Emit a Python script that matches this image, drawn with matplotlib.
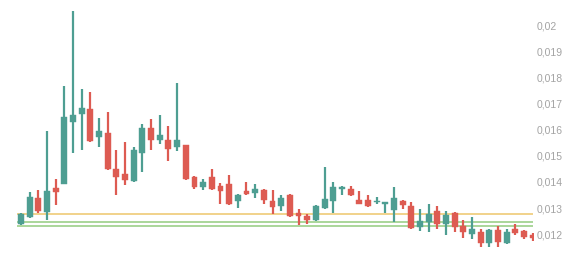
import matplotlib
matplotlib.use('Agg')
import matplotlib.pyplot as plt
from matplotlib.ticker import FuncFormatter
import numpy as np

# ── data ──────────────────────────────────────────────────────────────────────
opens = [0.012385, 0.012654, 0.013385, 0.012858, 0.013769, 0.013923, 0.016319, 0.016615,
         0.016819, 0.015742, 0.015896, 0.014500, 0.014319, 0.014027, 0.015127, 0.016088,
         0.015604, 0.015615, 0.015358, 0.015404, 0.014192, 0.013808, 0.014192, 0.013846,
         0.013923, 0.013258, 0.013654, 0.013588, 0.013704, 0.013269, 0.013077, 0.013500,
         0.012808, 0.012692, 0.012538, 0.013000, 0.013269, 0.013742, 0.013742, 0.013308,
         0.013308, 0.013219, 0.013154, 0.012923, 0.013281, 0.013088, 0.012269, 0.012473,
         0.012885, 0.012396, 0.012796, 0.012308, 0.012000, 0.012088, 0.011665, 0.012154,
         0.011665, 0.012204, 0.012127, 0.011950]
closes = [0.012781, 0.013423, 0.012873, 0.013654, 0.013627, 0.016512, 0.016577, 0.016858,
          0.015577, 0.015973, 0.014500, 0.014204, 0.014077, 0.015231, 0.016088, 0.015604,
          0.015819, 0.015281, 0.015615, 0.014115, 0.013808, 0.014000, 0.013742, 0.013654,
          0.013154, 0.013500, 0.013550, 0.013731, 0.013319, 0.013050, 0.013396, 0.012704,
          0.012704, 0.012538, 0.013077, 0.013346, 0.013808, 0.013819, 0.013500, 0.013154,
          0.013088, 0.013288, 0.013219, 0.013373, 0.013104, 0.012231, 0.012500, 0.012781,
          0.012396, 0.012742, 0.012281, 0.012065, 0.012192, 0.011665, 0.012154, 0.011681,
          0.012088, 0.012050, 0.011873, 0.011835]
highs = [0.012819, 0.013615, 0.013692, 0.015962, 0.014115, 0.017692, 0.020577, 0.017577,
         0.017462, 0.016462, 0.016692, 0.015231, 0.015538, 0.015346, 0.016231, 0.016435,
         0.016577, 0.016154, 0.017808, 0.015412, 0.014231, 0.014127, 0.014500, 0.013962,
         0.014269, 0.013527, 0.014000, 0.013923, 0.013719, 0.013692, 0.013500, 0.013527,
         0.012950, 0.012781, 0.013115, 0.014588, 0.014012, 0.013846, 0.013846, 0.013654,
         0.013500, 0.013423, 0.013242, 0.013808, 0.013308, 0.013219, 0.012962, 0.013154,
         0.013077, 0.012885, 0.012846, 0.012527, 0.012654, 0.012192, 0.012192, 0.012319,
         0.012192, 0.012385, 0.012154, 0.012027]
lows = [0.012346, 0.012627, 0.012819, 0.012550, 0.013127, 0.013904, 0.015127, 0.015231,
        0.015550, 0.015358, 0.014473, 0.013512, 0.013896, 0.014012, 0.014396, 0.015242,
        0.015462, 0.014819, 0.015204, 0.014088, 0.013712, 0.013704, 0.013704, 0.013165,
        0.013115, 0.013012, 0.013512, 0.013396, 0.013165, 0.012769, 0.012896, 0.012665,
        0.012358, 0.012396, 0.012512, 0.012973, 0.012819, 0.013512, 0.013462, 0.013135,
        0.013050, 0.013154, 0.012819, 0.012473, 0.012962, 0.012204, 0.012127, 0.012088,
        0.012204, 0.011962, 0.012088, 0.011858, 0.011819, 0.011512, 0.011512, 0.011512,
        0.011615, 0.011973, 0.011819, 0.011742]

level_values = [0.012758, 0.012469, 0.012296]
level_colors = ['#EDC66B', '#93CC7E', '#93CC7E']

y_ticks = [0.012, 0.013, 0.014, 0.015, 0.016, 0.017, 0.018, 0.019, 0.020]

UP_COL   = '#4E9E92'
DOWN_COL = '#DD5B52'
TXT_COL  = '#A3A3A3'

# ── figure ────────────────────────────────────────────────────────────────────
W, H, DPI = 584, 258, 100
fig = plt.figure(figsize=(W / DPI, H / DPI), dpi=DPI)
fig.patch.set_facecolor('white')
ax = fig.add_axes([0, 0, 534 / W, 1])
ax.set_facecolor('white')

n = len(opens)
x = np.arange(n)
body_w = 0.68

for i in range(n):
    o, c, h, l = opens[i], closes[i], highs[i], lows[i]
    col = UP_COL if c >= o else DOWN_COL
    ax.vlines(x[i], l, h, color=col, linewidth=1.6, zorder=2)
    ax.bar(x[i], abs(c - o), bottom=min(o, c), width=body_w,
           color=col, edgecolor=col, linewidth=0.3, zorder=3)

for val, col in zip(level_values, level_colors):
    ax.hlines(val, -0.45, n - 1, color=col, linewidth=1.1, zorder=1)

# pixel 234 -> 0.012, 26 px per 0.001
ax.set_ylim(0.012 - 24 / 26000, 0.012 + 234 / 26000)
ax.set_xlim(-21 / 8.673, (534 - 21) / 8.673)

ax.yaxis.tick_right()
ax.set_yticks(y_ticks)
ax.yaxis.set_major_formatter(FuncFormatter(
    lambda v, p: f'{v:.3f}'.rstrip('0').replace('.', ',')))
ax.tick_params(axis='y', length=0, pad=2, labelsize=7.5, labelcolor=TXT_COL)
for lab in ax.get_yticklabels():
    lab.set_family('Liberation Sans')
ax.set_xticks([])
for spine in ax.spines.values():
    spine.set_visible(False)

fig.savefig('out.png', dpi=DPI, facecolor='white')
